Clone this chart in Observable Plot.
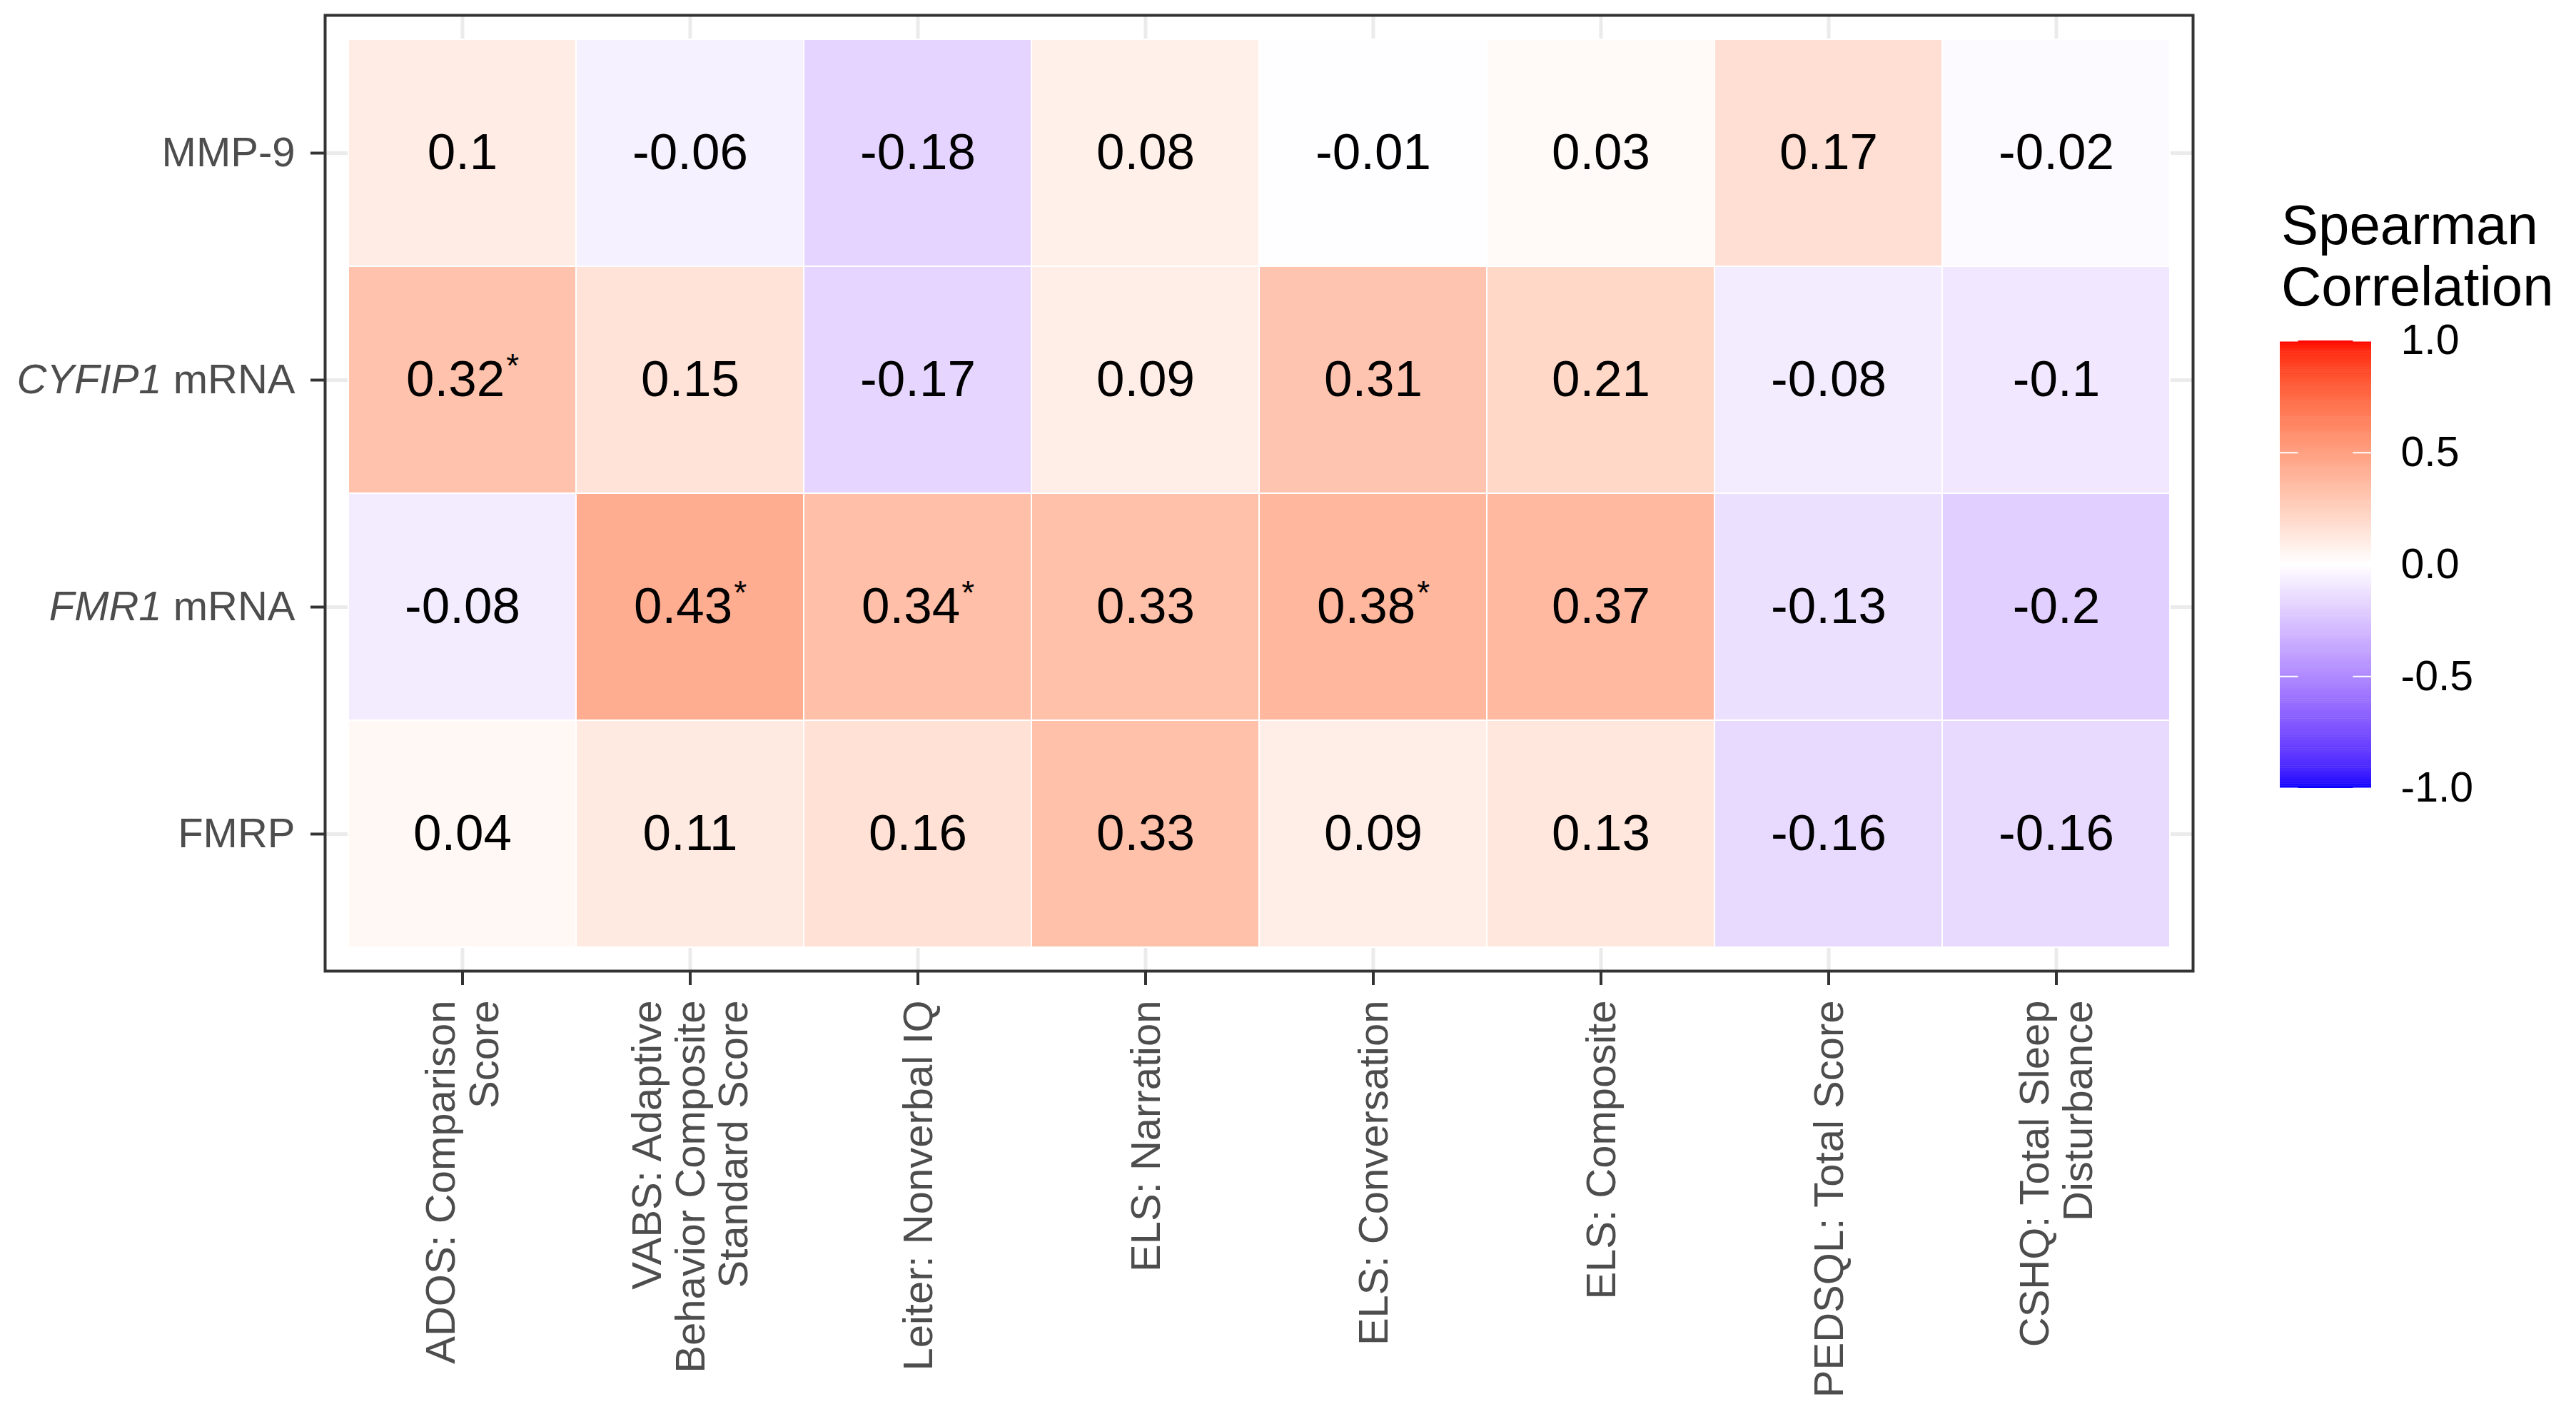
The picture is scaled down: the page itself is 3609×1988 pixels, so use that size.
<!DOCTYPE html>
<html><head><meta charset="utf-8">
<script src="https://cdn.jsdelivr.net/npm/d3@7"></script>
<script src="https://cdn.jsdelivr.net/npm/@observablehq/plot@0.6"></script>
<style>
html,body{margin:0;padding:0;background:#fff;}
#wrap{position:relative;width:3609px;height:1988px;font-family:"Liberation Sans",Arial,sans-serif;background:#fff;}
#main{position:absolute;left:0;top:0;}
#legend{position:absolute;left:3170px;top:440px;}
#ltitle{position:absolute;left:3196px;top:272px;font-size:78px;line-height:86px;color:#000;white-space:nowrap;}
</style></head><body>
<div id="wrap"><div id="main"></div><div id="ltitle">Spearman<br>Correlation</div><div id="legend"></div></div>
<script>
// ---- data ----
const rows = ["MMP-9", "CYFIP1 mRNA", "FMR1 mRNA", "FMRP"];
const cols = [
  "ADOS: Comparison\nScore",
  "VABS: Adaptive\nBehavior Composite\nStandard Score",
  "Leiter: Nonverbal IQ",
  "ELS: Narration",
  "ELS: Conversation",
  "ELS: Composite",
  "PEDSQL: Total Score",
  "CSHQ: Total Sleep\nDisturbance"
];
const mmp9   = [0.10, -0.06, -0.18, 0.08, -0.01, 0.03, 0.17, -0.02];
const cyfip1 = [0.32, 0.15, -0.17, 0.09, 0.31, 0.21, -0.08, -0.10];
const fmr1   = [-0.08, 0.43, 0.34, 0.33, 0.38, 0.37, -0.13, -0.20];
const fmrp   = [0.04, 0.11, 0.16, 0.33, 0.09, 0.13, -0.16, -0.16];
const sigMmp9   = [false, false, false, false, false, false, false, false];
const sigCyfip1 = [true, false, false, false, false, false, false, false];
const sigFmr1   = [false, true, true, false, true, false, false, false];
const sigFmrp   = [false, false, false, false, false, false, false, false];
const legendBreaks = [1, 0.5, 0, -0.5, -1];
const legendLimits = [-1, 1];

// ---- table ----
const values = [mmp9, cyfip1, fmr1, fmrp];
const sigs = [sigMmp9, sigCyfip1, sigFmr1, sigFmrp];
const cells = rows.flatMap((r, i) => values[i].map((v, j) => ({
  row: r, col: cols[j], value: v, label: String(v) + (sigs[i][j] ? "*" : "")
})));

const FONT = '"Liberation Sans", Arial, sans-serif';
const colorScale = {
  type: "linear",
  domain: legendLimits,
  interpolate: d3.piecewise(d3.interpolateLab, ["blue", "white", "red"])
};

const main = Plot.plot({
  width: 3100, height: 1988,
  marginLeft: 455, marginRight: 28, marginTop: 21, marginBottom: 628,
  style: {fontFamily: FONT, background: "white", overflow: "visible"},
  x: {domain: cols, paddingInner: 0, paddingOuter: 0.1, axis: null},
  y: {domain: rows, paddingInner: 0, paddingOuter: 0.1, axis: null},
  color: colorScale,
  marks: [
    Plot.ruleX(cols, {x: d => d, stroke: "#ebebeb", strokeWidth: 5}),
    Plot.ruleY(rows, {y: d => d, stroke: "#ebebeb", strokeWidth: 5}),
    Plot.cell(cells, {x: "col", y: "row", fill: "value", stroke: "white", strokeWidth: 2}),
    Plot.text(cells, {x: "col", y: "row", text: "label", fontSize: 71, fill: "black"}),
    Plot.frame({stroke: "#333333", strokeWidth: 4}),
    Plot.axisY({tickSize: 20, tickPadding: 22, fontSize: 58, fill: "#4d4d4d", stroke: "#333333", strokeWidth: 4, label: null}),
    Plot.axisX({tickSize: 20, tickFormat: () => "", stroke: "#333333", strokeWidth: 4, label: null}),
    Plot.text(cols, {x: d => d, text: d => d, frameAnchor: "bottom", dy: 41, rotate: -90,
      textAnchor: "end", lineAnchor: "middle", lineHeight: 1.05, fontSize: 58, fill: "#4d4d4d"})
  ]
});

// mixed styles: italic gene names and superscript asterisks
main.querySelectorAll("text").forEach(t => {
  const s = t.textContent;
  const m = s.match(/^(\S+) (mRNA)$/);
  if (m && t.children.length === 0) {
    t.textContent = "";
    const a = document.createElementNS("http://www.w3.org/2000/svg", "tspan");
    a.setAttribute("font-style", "italic"); a.textContent = m[1];
    const b = document.createElementNS("http://www.w3.org/2000/svg", "tspan");
    b.textContent = " " + m[2];
    t.append(a, b);
  } else if (/\*$/.test(s) && t.children.length === 0) {
    t.textContent = s.slice(0, -1);
    const st = document.createElementNS("http://www.w3.org/2000/svg", "tspan");
    st.setAttribute("font-size", "46");
    st.setAttribute("dx", "2");
    st.setAttribute("dy", "-27");
    st.textContent = "*";
    t.append(st);
  }
});
document.getElementById("main").append(main);

// ---- legend (vertical colour bar) ----
const step = 0.01;
const strips = d3.range(legendLimits[0], legendLimits[1] - 1e-9, step);
const legend = Plot.plot({
  width: 400, height: 720,
  marginLeft: 24, marginRight: 248, marginTop: 37, marginBottom: 56,
  style: {fontFamily: FONT, background: "transparent", overflow: "visible"},
  x: {domain: [0, 1], axis: null},
  y: {domain: legendLimits, axis: null},
  color: colorScale,
  marks: [
    Plot.rect(strips, {x1: 0, x2: 1, y1: d => d, y2: d => Math.min(d + step * 1.15, 1), fill: d => d + step / 2}),
    Plot.ruleY(legendBreaks, {y: d => d, x1: 0, x2: 0.2, stroke: "white", strokeWidth: 2}),
    Plot.ruleY(legendBreaks, {y: d => d, x1: 0.8, x2: 1, stroke: "white", strokeWidth: 2}),
    Plot.text(legendBreaks, {x: 1, y: d => d, dx: 41, textAnchor: "start", text: d => d.toFixed(1), fontSize: 59, fill: "black"})
  ]
});
document.getElementById("legend").append(legend);
</script>
</body></html>
